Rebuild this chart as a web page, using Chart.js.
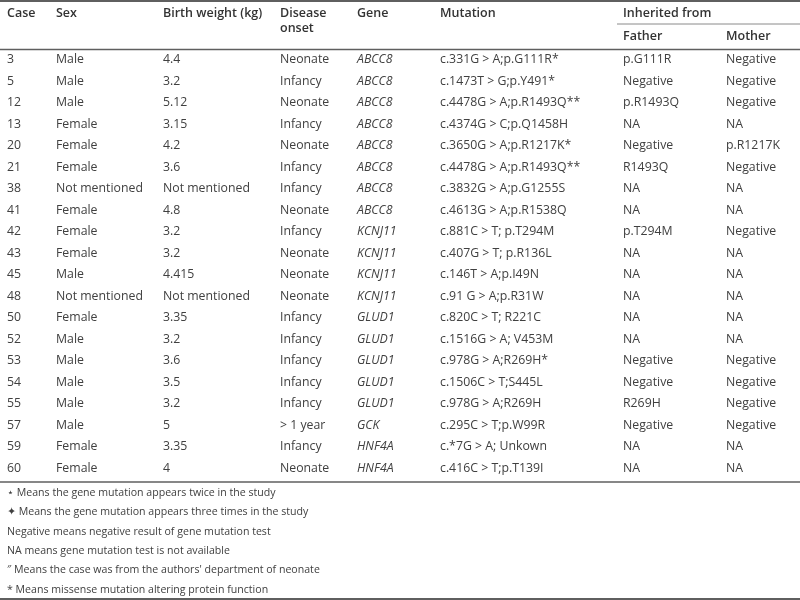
<!DOCTYPE html>
<html>
<head>
<meta charset="utf-8">
<script src="https://cdn.jsdelivr.net/npm/chart.js@4.4.1/dist/chart.umd.min.js"></script>
<style>
  html, body { margin: 0; padding: 0; background: #fff; }
  canvas { display: block; }
</style>
</head>
<body>
<canvas id="bang" width="800" height="600" style="width:800px;height:600px"></canvas>
<script>
// du lieu bang
const caseNo = ["3", "5", "12", "13", "20", "21", "38", "41", "42", "43", "45", "48", "50", "52", "53", "54", "55", "57", "59", "60"];
const sex = ["Male", "Male", "Male", "Female", "Female", "Female", "Not mentioned", "Female", "Female", "Female",
             "Male", "Not mentioned", "Female", "Male", "Male", "Male", "Male", "Male", "Female", "Female"];
const birthWeight = ["4.4", "3.2", "5.12", "3.15", "4.2", "3.6", "Not mentioned", "4.8", "3.2", "3.2",
                     "4.415", "Not mentioned", "3.35", "3.2", "3.6", "3.5", "3.2", "5", "3.35", "4"];
const onset = ["Neonate", "Infancy", "Neonate", "Infancy", "Neonate", "Infancy", "Infancy", "Neonate", "Infancy", "Neonate",
               "Neonate", "Neonate", "Infancy", "Infancy", "Infancy", "Infancy", "Infancy", "> 1 year", "Infancy", "Neonate"];
const gene = ["ABCC8", "ABCC8", "ABCC8", "ABCC8", "ABCC8", "ABCC8", "ABCC8", "ABCC8", "KCNJ11", "KCNJ11",
              "KCNJ11", "KCNJ11", "GLUD1", "GLUD1", "GLUD1", "GLUD1", "GLUD1", "GCK", "HNF4A", "HNF4A"];
const mutation = ["c.331G > A;p.G111R*", "c.1473T > G;p.Y491*", "c.4478G > A;p.R1493Q**", "c.4374G > C;p.Q1458H",
                  "c.3650G > A;p.R1217K*", "c.4478G > A;p.R1493Q**", "c.3832G > A;p.G1255S", "c.4613G > A;p.R1538Q",
                  "c.881C > T; p.T294M", "c.407G > T; p.R136L", "c.146T > A;p.I49N", "c.91 G > A;p.R31W",
                  "c.820C > T; R221C", "c.1516G > A; V453M", "c.978G > A;R269H*", "c.1506C > T;S445L",
                  "c.978G > A;R269H", "c.295C > T;p.W99R", "c.*7G > A; Unkown", "c.416C > T;p.T139I"];
const father = ["p.G111R", "Negative", "p.R1493Q", "NA", "Negative", "R1493Q", "NA", "NA", "p.T294M", "NA",
                "NA", "NA", "NA", "NA", "Negative", "Negative", "R269H", "Negative", "NA", "NA"];
const mother = ["Negative", "Negative", "Negative", "NA", "p.R1217K", "Negative", "NA", "NA", "Negative", "NA",
                "NA", "NA", "NA", "NA", "Negative", "Negative", "Negative", "Negative", "NA", "NA"];

const headers = ["Case", "Sex", "Birth weight (kg)", "Disease", "Gene", "Mutation", "Father", "Mother"];
const footnotes = [
  "\u22C6 Means the gene mutation appears twice in the study",
  "\u2726 Means the gene mutation appears three times in the study",
  "Negative means negative result of gene mutation test",
  "NA means gene mutation test is not available",
  "\u2033 Means the case was from the authors' department of neonate",
  "* Means missense mutation altering protein function"
];

// bo cuc cot (vi tri trai cua moi cot)
const cotX = [7, 56, 163, 280, 357, 440, 623, 726];
const cacCot = [caseNo, sex, birthWeight, onset, gene, mutation, father, mother];

const mauChu = "#404040";
const mauKe = "#5f5f5f";
const font = "'Open Sans', 'Noto Sans', sans-serif";

const datasets = cacCot.map((cot, c) => ({
  label: headers[c],
  data: cot.map((v, i) => ({ x: cotX[c], y: caseNo[i] })),
  pointRadius: 0,
  showLine: false
}));

function ke(ctx, x1, x2, y, w, mau) {
  ctx.save();
  ctx.strokeStyle = mau;
  ctx.lineWidth = w;
  ctx.beginPath();
  ctx.moveTo(x1, y);
  ctx.lineTo(x2, y);
  ctx.stroke();
  ctx.restore();
}

const veBang = {
  id: "veBang",
  afterDatasetsDraw(chart) {
    const ctx = chart.ctx;
    const xs = chart.scales.x;
    const W = chart.width;
    ctx.save();
    ctx.fillStyle = mauChu;
    ctx.textBaseline = "middle";
    ctx.textAlign = "left";

    // cac o du lieu
    chart.data.datasets.forEach((ds, c) => {
      const meta = chart.getDatasetMeta(c);
      ctx.font = (c === 4 ? "italic " : "") + "12.3px " + font;
      meta.data.forEach((pt, i) => {
        ctx.fillText(cacCot[c][i], pt.x, pt.y);
      });
    });

    // tieu de
    ctx.fillStyle = "#333";
    ctx.font = "600 12.5px " + font;
    for (let c = 0; c < 6; c++) {
      ctx.fillText(headers[c], xs.getPixelForValue(cotX[c]), 13);
    }
    ctx.fillText("onset", xs.getPixelForValue(cotX[3]), 28);
    ctx.fillText("Inherited from", xs.getPixelForValue(cotX[6]), 13);
    ctx.fillText(headers[6], xs.getPixelForValue(cotX[6]), 36);
    ctx.fillText(headers[7], xs.getPixelForValue(cotX[7]), 36);

    // ghi chu
    ctx.fillStyle = mauChu;
    ctx.font = "10.6px " + font;
    footnotes.forEach((t, k) => {
      ctx.fillText(t, 7, 493 + k * 19.3);
    });
    ctx.restore();

    // duong ke
    ke(ctx, 0, W, 1, 2, mauKe);
    ke(ctx, xs.getPixelForValue(617), W, 24, 1, "#8a8a8a");
    ke(ctx, 0, W, chart.chartArea.top + 0.5, 1.5, mauKe);
    ke(ctx, 0, W, chart.chartArea.bottom + 3, 1.5, mauKe);
    ke(ctx, 0, W, 599, 2, mauKe);
  }
};

const ctx = document.getElementById("bang").getContext("2d");
new Chart(ctx, {
  type: "scatter",
  data: { datasets },
  options: {
    responsive: false,
    animation: false,
    layout: { padding: { top: 49, bottom: 121, left: 0, right: 0 } },
    plugins: { legend: { display: false }, tooltip: { enabled: false } },
    scales: {
      x: { type: "linear", min: 0, max: 800, display: false },
      y: { type: "category", labels: caseNo, offset: true, display: false }
    }
  },
  plugins: [veBang]
});
</script>
</body>
</html>
